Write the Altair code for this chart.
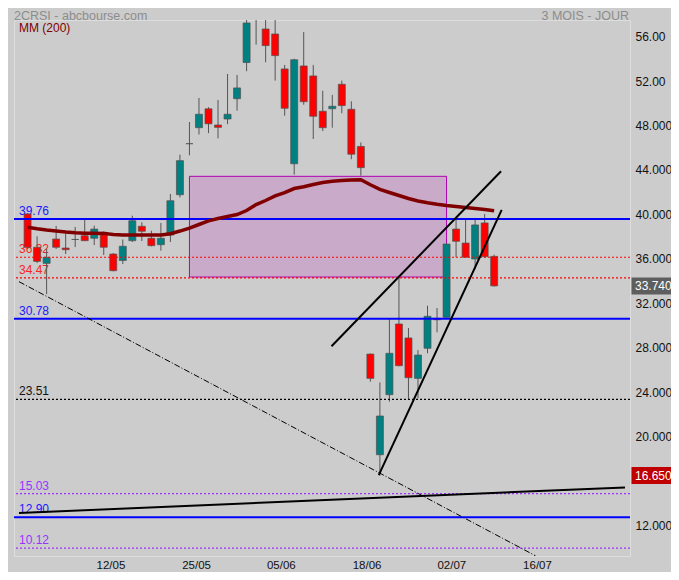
import altair as alt
import pandas as pd

# ---------------- data ----------------
open_ = [40.22, 37.22, 35.77, 37.96, 37.15, 37.92, 38.26, 38.03, 38.57, 36.61,
         36.03, 37.81, 39.11, 38.03, 37.45, 38.32, 41.95, 46.55, 47.99, 49.69,
         48.23, 48.77, 50.60, 53.86, 59.50, 56.88, 56.43, 53.28, 44.74, 53.55,
         52.65, 49.47, 49.70, 51.90, 49.65, 46.30, 27.60, 18.53, 23.94, 30.31,
         29.05, 25.41, 28.12, 30.82, 30.91, 38.86, 37.60, 36.16, 39.41, 36.40]
high_ = [40.30, 38.20, 37.06, 39.14, 38.42, 39.05, 39.77, 39.16, 38.65, 36.70,
         37.92, 40.06, 39.47, 38.71, 39.41, 42.02, 45.56, 48.50, 50.67, 49.84,
         50.49, 52.83, 52.74, 58.20, 60.00, 58.50, 58.30, 53.64, 54.20, 56.60,
         53.64, 51.32, 50.94, 52.23, 50.37, 46.66, 27.65, 25.05, 30.76, 34.66,
         29.95, 27.96, 31.95, 31.75, 37.60, 39.68, 39.68, 39.68, 40.22, 36.55]
low_ = [37.10, 35.80, 33.00, 37.06, 36.61, 37.24, 37.80, 37.42, 36.52, 35.05,
        35.71, 37.70, 37.78, 37.30, 36.91, 37.69, 41.70, 45.50, 47.38, 47.50,
        47.03, 48.31, 49.52, 53.08, 55.47, 53.88, 52.23, 49.07, 43.76, 50.06,
        46.97, 47.69, 47.99, 49.29, 45.15, 43.67, 25.11, 16.65, 23.31, 26.50,
        23.55, 23.61, 27.67, 29.56, 30.80, 36.32, 36.30, 35.26, 36.30, 33.67]
close_ = [37.22, 35.95, 36.31, 37.22, 37.00, 37.92, 37.81, 38.86, 37.22, 35.11,
          37.31, 39.61, 38.66, 37.36, 38.03, 41.41, 45.02, 46.55, 49.20, 48.34,
          48.02, 49.20, 51.57, 57.42, 58.30, 55.38, 54.48, 49.74, 54.11, 50.33,
          49.02, 47.99, 49.92, 49.98, 45.60, 44.39, 25.41, 22.02, 27.67, 26.55,
          25.47, 27.51, 31.00, 30.69, 37.51, 37.76, 36.32, 39.23, 36.37, 33.74]
ma200 = [39.02, 38.88, 38.77, 38.68, 38.59, 38.53, 38.49, 38.48, 38.47, 38.37,
         38.32, 38.32, 38.32, 38.32, 38.32, 38.44, 38.68, 38.95, 39.27, 39.60,
         39.81, 39.99, 40.17, 40.53, 41.07, 41.43, 41.84, 42.15, 42.51, 42.67,
         42.87, 43.05, 43.16, 43.23, 43.28, 43.30, 42.85, 42.44, 42.15, 41.88,
         41.61, 41.39, 41.23, 41.09, 40.98, 40.89, 40.80, 40.71, 40.62, 40.51]

blue_levels = [39.76, 30.78, 12.90]
red_levels = [36.32, 34.47]
black_levels = [23.51]
purple_levels = [15.03, 10.12]

zone_x = [17, 44]
zone_y = [34.54, 43.61]

channel_upper_x = [31.92, 49.72]
channel_upper_y = [28.30, 44.06]
channel_lower_x = [36.88, 49.79]
channel_lower_y = [16.70, 40.58]
support_x = [-0.9, 62.74]
support_y = [13.28, 15.59]
dashdot_x = [-0.9, 53.34]
dashdot_y = [34.12, 9.43]

x_tick_pos = [8.7, 17.7, 26.6, 35.6, 44.5, 53.5]
x_tick_lab = ["12/05", "25/05", "05/06", "18/06", "02/07", "16/07"]
y_tick_vals = [12, 20, 24, 28, 32, 36, 40, 44, 48, 52, 56]

last_close = [33.74]
period_low = [16.65]

# ---------------- layout ----------------
W, H = 616, 536
FONT = "Liberation Sans"
xs = alt.Scale(domain=[-0.9, 62.74], nice=False, zero=False)
ys = alt.Scale(domain=[9.41, 57.69], nice=False, zero=False)

candles = pd.DataFrame({"i": list(range(len(open_))), "o": open_, "h": high_,
                        "l": low_, "c": close_})
ma_df = pd.DataFrame({"i": list(range(len(ma200))), "v": ma200})


def level_df(vals):
    return pd.DataFrame({"v": vals, "lab": [f"{v:.2f}" for v in vals]})


def seg_df(xv, yv):
    return pd.DataFrame({"x": xv, "y": yv})


x_labexpr = ("[" + ",".join(f"'{s}'" for s in x_tick_lab) + "][indexof(["
             + ",".join(str(p) for p in x_tick_pos) + "], datum.value)]")

x_axis = alt.Axis(values=x_tick_pos, labelExpr=x_labexpr, ticks=False, domain=False,
                  grid=False, labelPadding=3, labelFontSize=11.5, labelFont=FONT,
                  labelColor="#111111", title=None)
y_axis = alt.Axis(orient="right", values=y_tick_vals,
                  labelExpr="datum.value >= 52 ? format(datum.value, '.2f') : format(datum.value, '.3f')",
                  ticks=False, domain=False, grid=False, labelPadding=5,
                  labelFontSize=12, labelFont=FONT, labelColor="#111111",
                  labelOffset=-2, title=None)


def X(field):
    return alt.X(field, scale=xs, axis=x_axis)


def Y(field):
    return alt.Y(field, scale=ys, axis=y_axis)


# zone rectangle
zone = alt.Chart(pd.DataFrame({"x": [zone_x[0]], "x2": [zone_x[1]],
                               "y": [zone_y[0]], "y2": [zone_y[1]]})).mark_rect(
    fill="#c9abc9", stroke="#b000b0", strokeWidth=1
).encode(x=X("x:Q"), x2="x2:Q", y=Y("y:Q"), y2="y2:Q")


def level_labels(vals, color):
    return alt.Chart(level_df(vals)).mark_text(
        align="left", baseline="alphabetic", dy=-4, fontSize=12, font=FONT, color=color
    ).encode(x=alt.value(5), y=Y("v:Q"), text="lab:N")


def level_rules(vals, color, width, dash=None):
    kw = dict(color=color, strokeWidth=width)
    if dash:
        kw["strokeDash"] = dash
    return alt.Chart(level_df(vals)).mark_rule(**kw).encode(y=Y("v:Q"))


lab_layers = [level_labels(blue_levels, "#1a1aff"), level_labels(red_levels, "#ff2222"),
              level_labels(black_levels, "#111111"), level_labels(purple_levels, "#9933ff")]

wicks = alt.Chart(candles).mark_rule(color="#555555", strokeWidth=1, clip=True).encode(
    x=X("i:Q"), y=Y("l:Q"), y2="h:Q")

bodies = alt.Chart(candles).transform_calculate(
    col="datum.o == datum.c ? '#555555' : (datum.c > datum.o ? '#008080' : '#ff0000')"
).mark_bar(size=7, stroke="#505050", strokeWidth=0.7, clip=True).encode(
    x=X("i:Q"), y=Y("o:Q"), y2="c:Q", color=alt.Color("col:N", scale=None))

rule_layers = [level_rules(red_levels, "#ff0000", 1.2, [2, 2]),
               level_rules(black_levels, "#000000", 1.2, [2, 2]),
               level_rules(purple_levels, "#9933ff", 1.2, [2, 2]),
               level_rules(blue_levels, "#0000ff", 2)]

ma_line = alt.Chart(ma_df).mark_line(color="#800000", strokeWidth=3.5).encode(
    x=X("i:Q"), y=Y("v:Q"))


def seg(xv, yv, width, dash=None):
    kw = dict(color="#000000", strokeWidth=width, clip=True)
    if dash:
        kw["strokeDash"] = dash
    return alt.Chart(seg_df(xv, yv)).mark_line(**kw).encode(x=X("x:Q"), y=Y("y:Q"))


trend_layers = [seg(dashdot_x, dashdot_y, 1, [6, 2, 1, 2]),
                seg(support_x, support_y, 2),
                seg(channel_upper_x, channel_upper_y, 2),
                seg(channel_lower_x, channel_lower_y, 2)]


def badge(vals, bg):
    d = pd.DataFrame({"v": vals, "lab": [f"{v:.3f}" for v in vals]})
    box = alt.Chart(d).mark_rule(color=bg, strokeWidth=17, strokeCap="butt").encode(
        y=Y("v:Q"), x=alt.value(W + 1.5), x2=alt.value(W + 60))
    txt = alt.Chart(d).mark_text(align="left", baseline="middle", color="white",
                                 fontSize=12, font=FONT, dy=0.5).encode(
        y=Y("v:Q"), x=alt.value(W + 5), text="lab:N")
    return [box, txt]


badge_layers = badge(last_close, "#5e5e5e") + badge(period_low, "#c00000")

one = pd.DataFrame({"t": ["2CRSI - abcbourse.com"], "r": ["3 MOIS - JOUR"], "m": ["MM (200)"]})
title_l = alt.Chart(one).mark_text(align="left", baseline="alphabetic", fontSize=12.5,
                                   font=FONT, color="#8c8c8c").encode(
    x=alt.value(0), y=alt.value(-0.5), text="t:N")
title_r = alt.Chart(one).mark_text(align="right", baseline="alphabetic", fontSize=12.5,
                                   font=FONT, color="#8c8c8c").encode(
    x=alt.value(W - 1), y=alt.value(-0.5), text="r:N")
ma_lab = alt.Chart(one).mark_text(align="left", baseline="alphabetic", fontSize=12,
                                  font=FONT, color="#800000").encode(
    x=alt.value(5), y=alt.value(12.3), text="m:N")

chart = alt.layer(
    zone, *lab_layers, wicks, bodies, *rule_layers, ma_line, *trend_layers,
    *badge_layers, title_l, title_r, ma_lab
).properties(
    width=W, height=H,
    autosize=alt.AutoSizeParams(type="none"),
    padding={"left": 6, "top": 12, "right": 41, "bottom": 16},
    background="#cccccc",
).configure_view(
    stroke="#ffffff", strokeWidth=1, fill="#cccccc"
).configure(font=FONT)

chart.save("out.html", embed_options={"renderer": "svg", "actions": False})
